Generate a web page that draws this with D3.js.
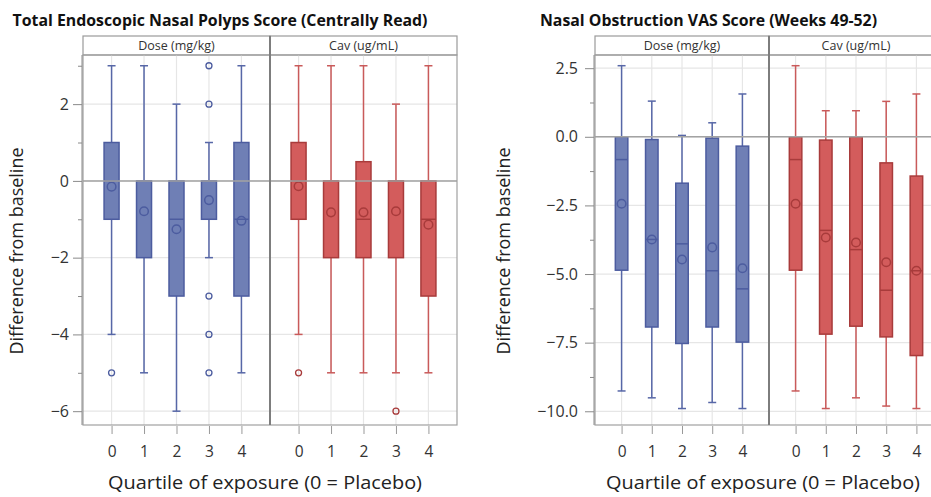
<!DOCTYPE html>
<html>
<head>
<meta charset="utf-8">
<script src="https://cdn.jsdelivr.net/npm/d3@7"></script>
<style>
  html, body { margin: 0; padding: 0; background: #fff; }
  svg { display: block; font-family: "Open Sans", "Noto Sans", sans-serif; }
</style>
</head>
<body>
<svg id="chart" width="931" height="497"></svg>
<script>
// Exposure quartiles and facet panels
const quartiles = ["0", "1", "2", "3", "4"];
const panels = ["Dose (mg/kg)", "Cav (ug/mL)"];

// Total Endoscopic Nasal Polyps Score: box statistics per quartile
const polypDoseLow  = [-4, -5, -6, -2, -5];
const polypDoseQ1   = [-1, -2, -3, -1, -3];
const polypDoseMed  = [0, 0, -1, 0, -1];
const polypDoseQ3   = [1, 0, 0, 0, 1];
const polypDoseHigh = [3, 3, 2, 1, 3];
const polypDoseMean = [-0.15, -0.79, -1.26, -0.5, -1.04];
const polypDoseOut  = [[-5], [], [], [3, 2, -3, -4, -5], []];

const polypCavLow  = [-4, -5, -5, -5, -5];
const polypCavQ1   = [-1, -2, -2, -2, -3];
const polypCavMed  = [0, 0, -1, 0, -1];
const polypCavQ3   = [1, 0, 0.5, 0, 0];
const polypCavHigh = [3, 3, 3, 2, 3];
const polypCavMean = [-0.14, -0.82, -0.82, -0.79, -1.14];
const polypCavOut  = [[-5], [], [], [-6], []];

// Nasal Obstruction VAS Score (Weeks 49-52): box statistics per quartile
const vasDoseLow  = [-9.26, -9.51, -9.9, -9.68, -9.9];
const vasDoseQ1   = [-4.86, -6.93, -7.53, -6.93, -7.48];
const vasDoseMed  = [-0.83, -3.74, -3.9, -4.88, -5.54];
const vasDoseQ3   = [0, -0.1, -1.69, -0.05, -0.34];
const vasDoseHigh = [2.59, 1.3, 0.05, 0.51, 1.56];
const vasDoseMean = [-2.44, -3.74, -4.47, -4.03, -4.79];
const vasDoseOut  = [[], [], [], [], []];

const vasCavLow  = [-9.26, -9.9, -9.51, -9.81, -9.9];
const vasCavQ1   = [-4.86, -7.19, -6.9, -7.29, -7.97];
const vasCavMed  = [-0.83, -3.41, -4.11, -5.59, -4.88];
const vasCavQ3   = [0, -0.12, 0, -0.95, -1.43];
const vasCavHigh = [2.59, 0.95, 0.95, 1.29, 1.56];
const vasCavMean = [-2.44, -3.67, -3.85, -4.57, -4.88];
const vasCavOut  = [[], [], [], [], []];

// Axis tick values
const polypMajor = [-6, -4, -2, 0, 2];
const polypMinor = [-5, -3, -1, 1, 3];
const vasMajor = [-10, -7.5, -5, -2.5, 0, 2.5];
const vasMinor = [-8.75, -6.25, -3.75, -1.25, 1.25];

function stats(low, q1, med, q3, high, mean, out) {
  return quartiles.map((q, i) => ({
    q, low: low[i], q1: q1[i], med: med[i], q3: q3[i], high: high[i], mean: mean[i], out: out[i]
  }));
}

const palette = {
  "Dose (mg/kg)": { fill: "#6f7fb5", stroke: "#4c5c9f", whisker: "#5767a7" },
  "Cav (ug/mL)":  { fill: "#d35c5c", stroke: "#a83b3b", whisker: "#c95a5a" }
};

const svg = d3.select("#chart");
svg.append("rect").attr("width", 931).attr("height", 497).attr("fill", "#fff");

function drawChart(o) {
  const g = svg.append("g");
  const top = 55, bottom = 425, stripTop = 36;
  const y = d3.scaleLinear().domain(o.domain).range([bottom, top]);
  const panelX = d3.scaleBand().domain(panels).range([o.left, o.right]);

  // Title
  g.append("text").attr("x", o.titleX).attr("y", 26)
    .attr("font-size", 16).attr("font-weight", "bold").attr("fill", "#111")
    .attr("textLength", o.titleLen).attr("lengthAdjust", "spacingAndGlyphs")
    .text(o.title);

  // Horizontal grid at major ticks
  g.append("g").selectAll("line").data(o.major).join("line")
    .attr("x1", o.left).attr("x2", o.right)
    .attr("y1", d => y(d)).attr("y2", d => y(d))
    .attr("stroke", "#e6e6e6").attr("stroke-width", 1.2);

  panels.forEach(p => {
    const x0 = panelX(p), x1 = x0 + panelX.bandwidth();
    const x = d3.scalePoint().domain(quartiles).range([x0, x1]).padding(0.88);
    const col = palette[p];
    const data = o.series[p];
    const pg = g.append("g");

    // Strip header
    pg.append("rect").attr("x", x0).attr("y", stripTop).attr("width", x1 - x0).attr("height", top - stripTop)
      .attr("fill", "#fff").attr("stroke", "#9a9a9a").attr("stroke-width", 1.2);
    pg.append("text").attr("x", (x0 + x1) / 2).attr("y", stripTop + 14)
      .attr("text-anchor", "middle").attr("font-size", 12.5).attr("fill", "#333").text(p);

    // Vertical grid
    pg.append("g").selectAll("line").data(quartiles).join("line")
      .attr("x1", d => x(d)).attr("x2", d => x(d)).attr("y1", top).attr("y2", bottom)
      .attr("stroke", "#e6e6e6").attr("stroke-width", 1.2);

    // Boxes
    const b = pg.append("g").selectAll("g").data(data).join("g");
    const hw = o.boxW / 2, cw = 4;
    b.append("line").attr("x1", d => x(d.q)).attr("x2", d => x(d.q))
      .attr("y1", d => y(d.high)).attr("y2", d => y(d.q3))
      .attr("stroke", col.whisker).attr("stroke-width", 1.5);
    b.append("line").attr("x1", d => x(d.q)).attr("x2", d => x(d.q))
      .attr("y1", d => y(d.q1)).attr("y2", d => y(d.low))
      .attr("stroke", col.whisker).attr("stroke-width", 1.5);
    b.append("line").attr("x1", d => x(d.q) - cw).attr("x2", d => x(d.q) + cw)
      .attr("y1", d => y(d.high)).attr("y2", d => y(d.high))
      .attr("stroke", col.whisker).attr("stroke-width", 1.5);
    b.append("line").attr("x1", d => x(d.q) - cw).attr("x2", d => x(d.q) + cw)
      .attr("y1", d => y(d.low)).attr("y2", d => y(d.low))
      .attr("stroke", col.whisker).attr("stroke-width", 1.5);
    b.append("rect").attr("x", d => x(d.q) - hw).attr("width", o.boxW)
      .attr("y", d => y(d.q3)).attr("height", d => Math.max(0, y(d.q1) - y(d.q3)))
      .attr("fill", col.fill).attr("stroke", col.stroke).attr("stroke-width", 1.5);
    b.append("line").attr("x1", d => x(d.q) - hw).attr("x2", d => x(d.q) + hw)
      .attr("y1", d => y(d.med)).attr("y2", d => y(d.med))
      .attr("stroke", col.stroke).attr("stroke-width", 1.5);
    b.append("circle").attr("cx", d => x(d.q)).attr("cy", d => y(d.mean)).attr("r", o.meanR)
      .attr("fill", "none").attr("stroke", col.stroke).attr("stroke-width", 1.5);
    b.selectAll("circle.out").data(d => d.out.map(v => ({ q: d.q, v }))).join("circle")
      .attr("class", "out").attr("cx", d => x(d.q)).attr("cy", d => y(d.v)).attr("r", o.outR)
      .attr("fill", "none").attr("stroke", col.stroke).attr("stroke-width", 1.3);

    // X axis for this panel
    const xa = pg.append("g").attr("transform", `translate(0,${bottom + 1})`)
      .call(d3.axisBottom(x).tickSize(8).tickPadding(12));
    xa.select(".domain").remove();
    xa.selectAll(".tick line").attr("stroke", "#999");
    xa.selectAll(".tick text").attr("font-size", 15.5).attr("fill", "#333")
      .attr("font-family", "Open Sans, Noto Sans, sans-serif");
  });

  // Zero reference line
  g.append("line").attr("x1", o.left).attr("x2", o.right).attr("y1", y(0)).attr("y2", y(0))
    .attr("stroke", "#a3a3a3").attr("stroke-width", 1.5);

  // Frame and panel divider
  g.append("rect").attr("x", o.left).attr("y", top).attr("width", o.right - o.left).attr("height", bottom - top)
    .attr("fill", "none").attr("stroke", "#a0a0a0").attr("stroke-width", 1.2);
  const mid = panelX(panels[1]);
  g.append("line").attr("x1", mid).attr("x2", mid).attr("y1", stripTop).attr("y2", bottom)
    .attr("stroke", "#7d7d7d").attr("stroke-width", 2);

  // Y axis: labelled major ticks and short minor ticks
  const ya = g.append("g").attr("transform", `translate(${o.left - 1},0)`)
    .call(d3.axisLeft(y).tickValues(o.major).tickSize(9).tickPadding(o.tickPad).tickFormat(o.fmt));
  ya.select(".domain").attr("stroke", "#8a8a8a").attr("d", `M0,${top}V${bottom}`);
  ya.selectAll(".tick line").attr("stroke", "#8a8a8a");
  ya.selectAll(".tick text").attr("font-size", 16).attr("fill", "#333")
    .attr("font-family", "Open Sans, Noto Sans, sans-serif");
  const ym = g.append("g").attr("transform", `translate(${o.left - 1},0)`)
    .call(d3.axisLeft(y).tickValues(o.minor).tickSize(4).tickFormat(""));
  ym.select(".domain").remove();
  ym.selectAll(".tick line").attr("stroke", "#8a8a8a");

  // Axis titles
  g.append("text").attr("transform", `translate(${o.yTitleX},${251}) rotate(-90)`)
    .attr("text-anchor", "middle").attr("font-size", 17.5).attr("fill", "#222")
    .attr("textLength", 207).attr("lengthAdjust", "spacingAndGlyphs")
    .text("Difference from baseline");
  g.append("text").attr("x", o.xTitleX).attr("y", 489)
    .attr("text-anchor", "middle").attr("font-size", 18).attr("fill", "#222")
    .attr("textLength", 314).attr("lengthAdjust", "spacingAndGlyphs")
    .text("Quartile of exposure (0 = Placebo)");
}

drawChart({
  title: "Total Endoscopic Nasal Polyps Score (Centrally Read)", titleX: 12.5, titleLen: 415,
  left: 83, right: 457, domain: [-6.36, 3.28],
  major: polypMajor, minor: polypMinor, fmt: d3.format("d"), tickPad: 4,
  boxW: 15, meanR: 4.3, outR: 3,
  yTitleX: 23, xTitleX: 265,
  series: {
    "Dose (mg/kg)": stats(polypDoseLow, polypDoseQ1, polypDoseMed, polypDoseQ3, polypDoseHigh, polypDoseMean, polypDoseOut),
    "Cav (ug/mL)": stats(polypCavLow, polypCavQ1, polypCavMed, polypCavQ3, polypCavHigh, polypCavMean, polypCavOut)
  }
});

drawChart({
  title: "Nasal Obstruction VAS Score (Weeks 49-52)", titleX: 540, titleLen: 337,
  left: 595, right: 943, domain: [-10.5, 2.98],
  major: vasMajor, minor: vasMinor, fmt: d3.format(".1f"), tickPad: 7,
  boxW: 12.5, meanR: 4.3, outR: 3,
  yTitleX: 510, xTitleX: 763,
  series: {
    "Dose (mg/kg)": stats(vasDoseLow, vasDoseQ1, vasDoseMed, vasDoseQ3, vasDoseHigh, vasDoseMean, vasDoseOut),
    "Cav (ug/mL)": stats(vasCavLow, vasCavQ1, vasCavMed, vasCavQ3, vasCavHigh, vasCavMean, vasCavOut)
  }
});
</script>
</body>
</html>
